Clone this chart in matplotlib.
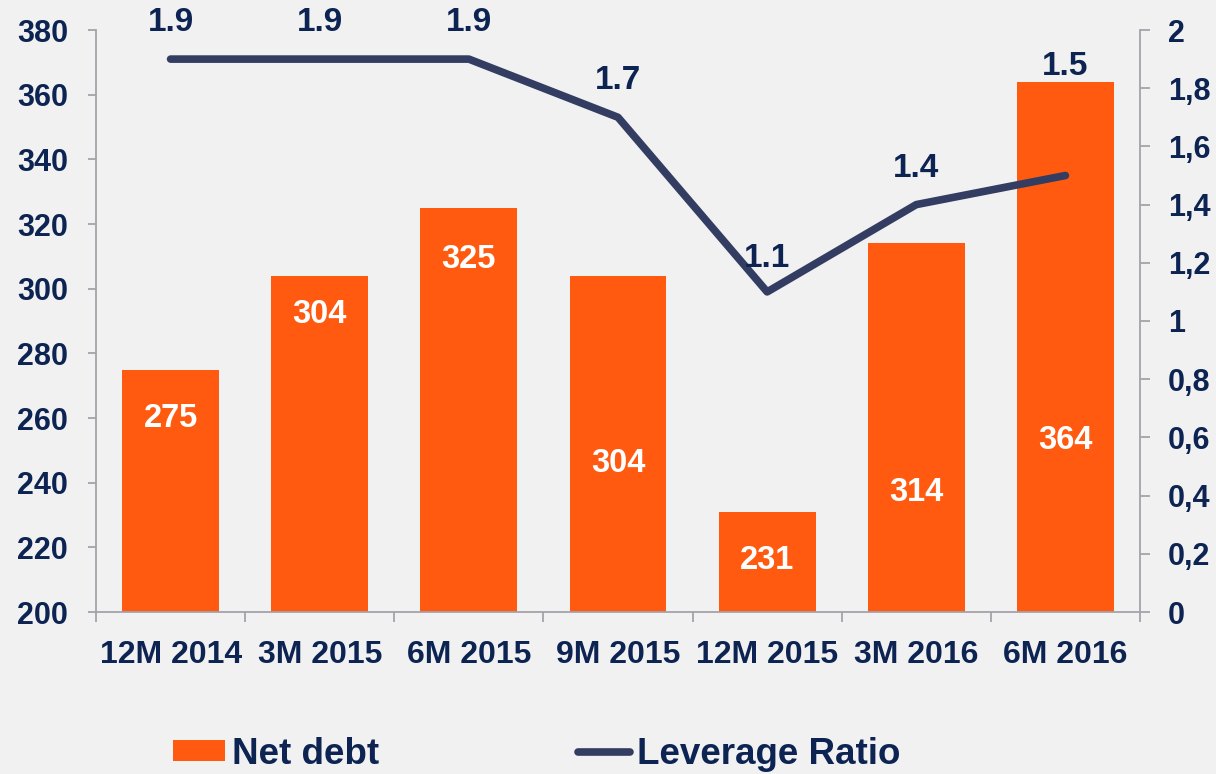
import matplotlib
matplotlib.use("Agg")
import matplotlib.pyplot as plt
from matplotlib.ticker import FixedLocator, FuncFormatter, MultipleLocator
from matplotlib.patches import Patch
from matplotlib.lines import Line2D

# Data
periods = ["12M 2014", "3M 2015", "6M 2015", "9M 2015", "12M 2015", "3M 2016", "6M 2016"]
net_debt = [275, 304, 325, 304, 231, 314, 364]
leverage = [1.9, 1.9, 1.9, 1.7, 1.1, 1.4, 1.5]

# Label placement (left-axis units for bar labels, pixel offsets for line labels)
net_label_y = [260, 292, 309, 246, 216, 237, 253]
lev_label_dy = [37, 37, 37, 37, 33, 36, 109]

BG = "#f1f1f1"
ORANGE = "#ff5a10"
NAVY_LINE = "#333d62"
TEXT = "#0d2453"
SPINE = "#a3a3aa"

plt.rcParams["font.family"] = ["Liberation Sans", "DejaVu Sans"]
plt.rcParams["font.weight"] = "bold"

fig = plt.figure(figsize=(12.16, 7.74), dpi=100, facecolor=BG)
ax = fig.add_axes([96 / 1216, 1 - 612 / 774, (1140 - 96) / 1216, (612 - 30) / 774])
ax.set_facecolor(BG)
ax2 = ax.twinx()

x = list(range(len(periods)))
ax.bar(x, [v - 200 for v in net_debt], bottom=200, width=0.65, color=ORANGE, zorder=2)
ax.set_ylim(200, 380)
ax.set_xlim(-0.5, len(periods) - 0.5)
ax.yaxis.set_major_locator(MultipleLocator(20))

for xi, v, ly in zip(x, net_debt, net_label_y):
    ax.text(xi, ly, f"{v}", ha="center", va="center", color="white",
            fontsize=23.5, fontweight="bold", zorder=4)

ax2.plot(x, leverage, color=NAVY_LINE, lw=5.5, solid_capstyle="round",
         solid_joinstyle="round", zorder=3)
ax2.set_ylim(0, 2)
ax2.yaxis.set_major_locator(MultipleLocator(0.2))
ax2.yaxis.set_major_formatter(FuncFormatter(lambda v, p: f"{round(v, 1):g}".replace(".", ",")))

for xi, v, dy in zip(x, leverage, lev_label_dy):
    ax2.annotate(f"{v:.1f}", (xi, v), xytext=(0, dy * 0.72), textcoords="offset points",
                 ha="center", va="center", color=TEXT, fontsize=24, fontweight="bold")

# x ticks sit between categories, labels at category centres
ax.xaxis.set_major_locator(FixedLocator([i - 0.5 for i in range(len(periods) + 1)]))
ax.xaxis.set_major_formatter(FuncFormatter(lambda v, p: ""))
ax.xaxis.set_minor_locator(FixedLocator(x))
ax.set_xticklabels(periods, minor=True)
ax.tick_params(axis="x", which="minor", length=0, pad=20, labelsize=23, labelcolor=TEXT)
ax.tick_params(axis="x", which="major", length=7, width=1.3, color=SPINE, direction="out")
ax.tick_params(axis="y", length=6, width=1.3, color=SPINE, pad=14, labelsize=22, labelcolor=TEXT)
ax2.tick_params(axis="y", length=7, width=1.3, color=SPINE, pad=13, labelsize=22, labelcolor=TEXT)

for a in (ax, ax2):
    for s in a.spines.values():
        s.set_visible(False)
ax.spines["left"].set_visible(True)
ax.spines["bottom"].set_visible(True)
ax2.spines["right"].set_visible(True)
for s in (ax.spines["left"], ax.spines["bottom"], ax2.spines["right"]):
    s.set_color(SPINE)
    s.set_linewidth(1.3)

for lab in ax.get_xticklabels(minor=True) + ax.get_yticklabels() + ax2.get_yticklabels():
    lab.set_fontweight("bold")

handles = [Patch(facecolor=ORANGE, edgecolor="none"),
           Line2D([0], [0], color=NAVY_LINE, lw=5.5, solid_capstyle="round")]
leg = fig.legend(handles, ["Net debt", "Leverage Ratio"], ncol=2, frameon=False,
                 loc="center left", bbox_to_anchor=(173 / 1216, 1 - 754 / 774),
                 fontsize=26.5, handlelength=1.41, handleheight=0.5, handletextpad=0.19,
                 columnspacing=5.4, borderaxespad=0, borderpad=0)
for t in leg.get_texts():
    t.set_color(TEXT)
    t.set_fontweight("bold")

fig.savefig("out.png", dpi=100, facecolor=BG)
